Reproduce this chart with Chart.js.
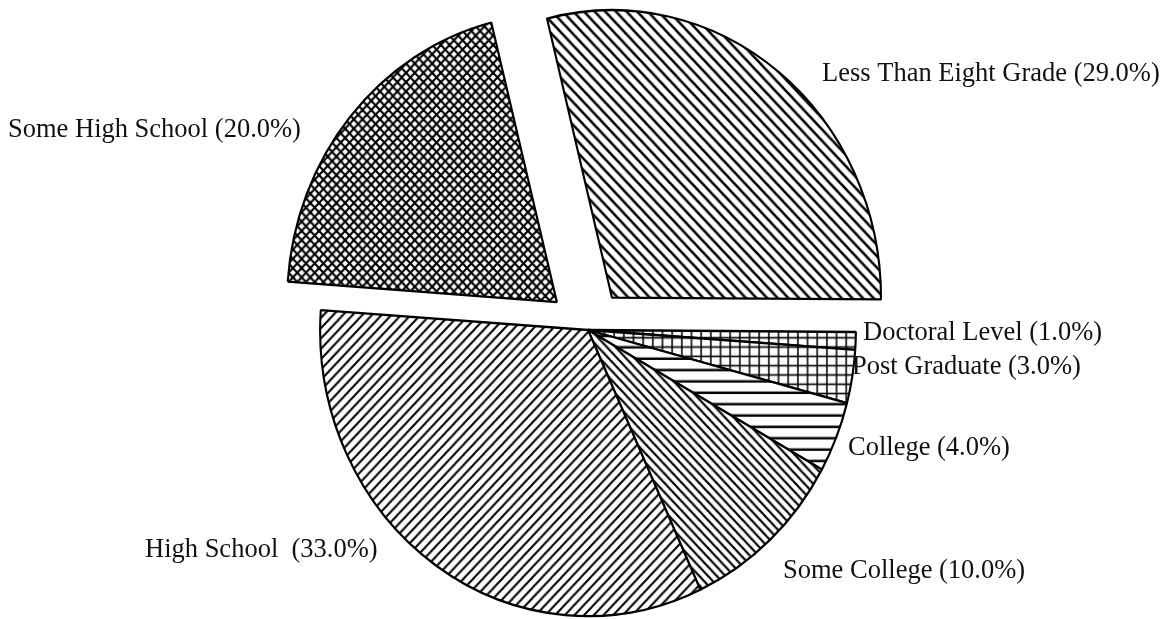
<!DOCTYPE html>
<html>
<head>
<meta charset="utf-8">
<script src="https://cdn.jsdelivr.net/npm/chart.js@4.4.1/dist/chart.umd.min.js"></script>
<style>
  html, body { margin: 0; padding: 0; background: #ffffff; }
  #wrap { width: 1176px; height: 619px; position: relative; }
</style>
</head>
<body>
<div id="wrap"><canvas id="c" width="1176" height="619"></canvas></div>
<script>
// ---- data ----
const categories = ['Less Than Eight Grade', 'Doctoral Level', 'Post Graduate', 'College', 'Some College', 'High School', 'Some High School'];
const percentValues = [29.0, 1.0, 3.0, 4.0, 10.0, 33.0, 20.0];
const labelSeparators = [' ', ' ', ' ', ' ', ' ', '  ', ' '];

// ---- hatch patterns ----
function makeTile(w, h, drawFn) {
  const c = document.createElement('canvas');
  c.width = w; c.height = h;
  const g = c.getContext('2d');
  g.fillStyle = '#ffffff';
  g.fillRect(0, 0, w, h);
  g.strokeStyle = '#000000';
  g.lineCap = 'square';
  drawFn(g, w, h);
  return document.createElement('canvas').getContext('2d').createPattern(c, 'repeat');
}
function back(s, lw) { // "\" lines
  return makeTile(s, s, (g) => {
    g.lineWidth = lw;
    for (let k = -1; k <= 1; k++) {
      g.beginPath(); g.moveTo(k * s, 0); g.lineTo(k * s + s, s); g.stroke();
    }
  });
}
function fwd(s, lw) { // "/" lines
  return makeTile(s, s, (g) => {
    g.lineWidth = lw;
    for (let k = -1; k <= 1; k++) {
      g.beginPath(); g.moveTo(k * s, s); g.lineTo(k * s + s, 0); g.stroke();
    }
  });
}
function cross(s, lw) {
  return makeTile(s, s, (g) => {
    g.lineWidth = lw;
    for (let k = -1; k <= 1; k++) {
      g.beginPath(); g.moveTo(k * s, 0); g.lineTo(k * s + s, s); g.stroke();
      g.beginPath(); g.moveTo(k * s, s); g.lineTo(k * s + s, 0); g.stroke();
    }
  });
}
function horiz(s, lw) {
  return makeTile(s, s, (g) => {
    g.lineWidth = lw; g.lineCap = 'butt';
    g.beginPath(); g.moveTo(0, s / 2); g.lineTo(s, s / 2); g.stroke();
  });
}
function grid(sx, sy, lw) {
  return makeTile(sx, sy, (g) => {
    g.lineWidth = lw; g.lineCap = 'butt';
    g.beginPath(); g.moveTo(0, sy / 2); g.lineTo(sx, sy / 2); g.stroke();
    g.beginPath(); g.moveTo(sx / 2, 0); g.lineTo(sx / 2, sy); g.stroke();
  });
}

const fills = [
  back(11, 2.6),     // Less Than Eight Grade
  grid(10, 9, 1.6),  // Doctoral
  grid(10, 9, 1.6),  // Post Graduate
  horiz(11.5, 2.4),  // College
  back(9, 2.2),      // Some College
  fwd(10, 2.0),      // High School
  cross(9, 2.1)      // Some High School
];

// ---- outside labels (positions are style, not data) ----
const labelPos = [
  { x: 822, y: 81 },
  { x: 863, y: 340 },
  { x: 852, y: 374 },
  { x: 848, y: 455 },
  { x: 783, y: 578 },
  { x: 145, y: 557 },
  { x: 8,   y: 137 }
];

// slight elliptical squash of the whole pie, as in the scanned original
const pieShape = { sx: 0.967, sy: 1.033 };
const shapePlugin = {
  id: 'pieShape',
  beforeDatasetsDraw(chart) {
    const a = chart.chartArea;
    const cx = (a.left + a.right) / 2, cy = (a.top + a.bottom) / 2;
    const ctx = chart.ctx;
    ctx.save();
    ctx.translate(cx, cy);
    ctx.scale(pieShape.sx, pieShape.sy);
    ctx.translate(-cx, -cy);
  },
  afterDatasetsDraw(chart) {
    chart.ctx.restore();
  }
};

const labelPlugin = {
  id: 'outLabels',
  afterDraw(chart) {
    const ctx = chart.ctx;
    ctx.save();
    ctx.font = '26.5px "Liberation Serif", "Times New Roman", serif';
    ctx.fillStyle = '#111111';
    ctx.textAlign = 'left';
    ctx.textBaseline = 'alphabetic';
    chart.data.labels.forEach((name, i) => {
      const v = chart.data.datasets[0].data[i];
      const txt = name + labelSeparators[i] + '(' + v.toFixed(1) + '%)';
      ctx.fillText(txt, labelPos[i].x, labelPos[i].y);
    });
    ctx.restore();
  }
};

new Chart(document.getElementById('c'), {
  type: 'pie',
  data: {
    labels: categories,
    datasets: [{
      data: percentValues,
      backgroundColor: fills,
      borderColor: '#000000',
      borderWidth: 2.2,
      offset: [160, 0, 0, 0, 0, 0, 168]
    }]
  },
  options: {
    responsive: false,
    animation: false,
    rotation: -14,
    radius: 277,
    layout: { padding: { left: 0, right: 0, top: 41, bottom: 0 } },
    plugins: {
      legend: { display: false },
      tooltip: { enabled: false },
      title: { display: false }
    }
  },
  plugins: [shapePlugin, labelPlugin]
});
</script>
</body>
</html>
